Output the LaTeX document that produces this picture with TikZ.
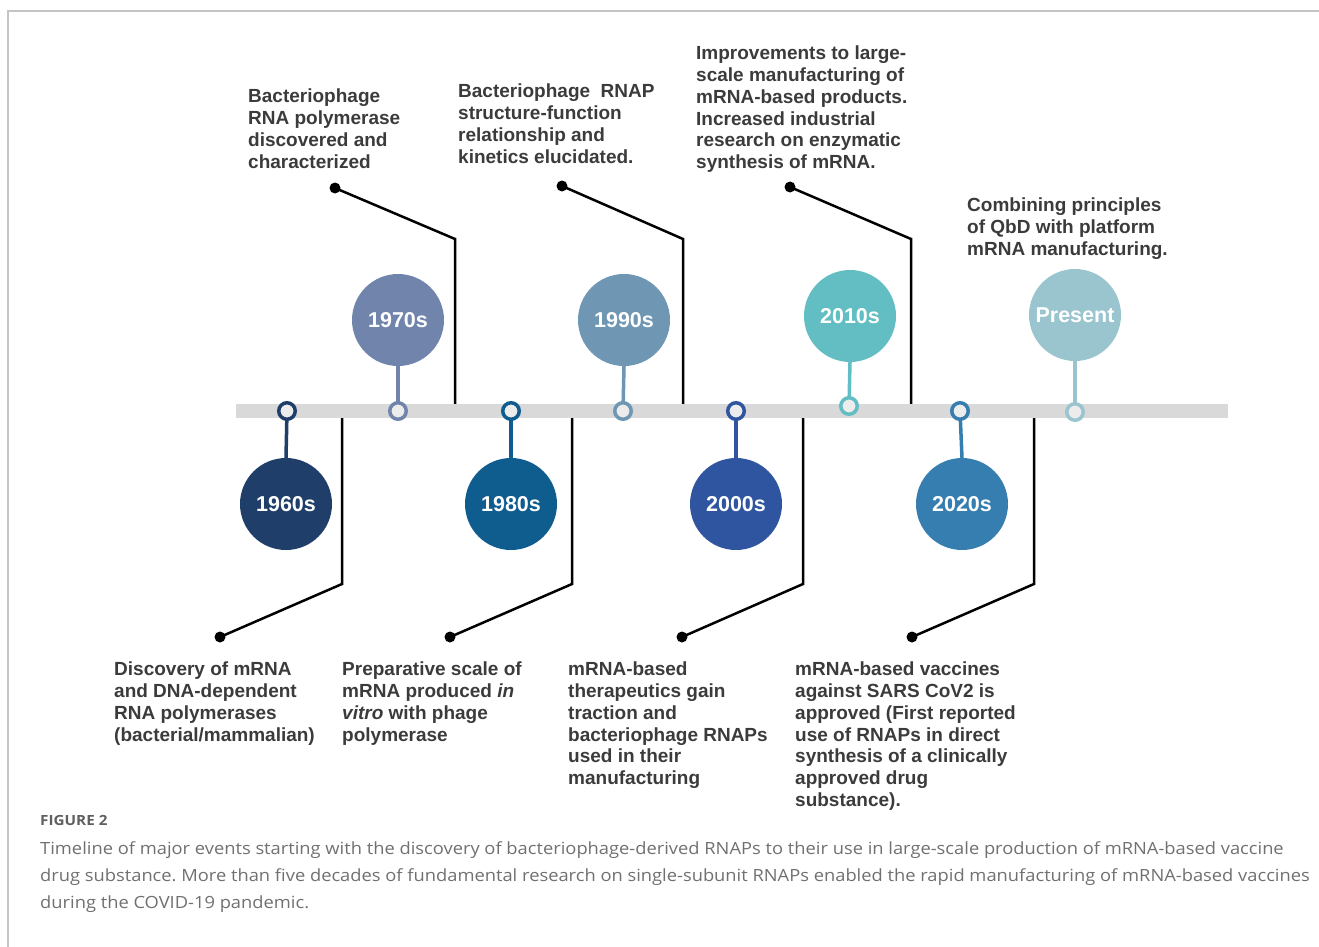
\documentclass[tikz,border=0pt]{standalone}
\usepackage{fontspec}
\setmainfont{Liberation Sans}
\newfontfamily\capfont[FakeStretch=1.09]{Open Sans}
\definecolor{c60}{HTML}{1F3F6A}
\definecolor{c70}{HTML}{7185AC}
\definecolor{c80}{HTML}{0F5C8E}
\definecolor{c90}{HTML}{6F96B3}
\definecolor{c00}{HTML}{2F55A0}
\definecolor{c10}{HTML}{62BEC3}
\definecolor{c20}{HTML}{357EAF}
\definecolor{cpr}{HTML}{9AC5CF}
\definecolor{barc}{HTML}{D9D9D9}
\definecolor{txt}{HTML}{3B3B3B}
\definecolor{framec}{HTML}{C4C4C4}
\definecolor{capc}{HTML}{707070}
\frenchspacing
\begin{document}
\begin{tikzpicture}[x=1pt,y=-1pt,
  yearc/.style={circle, minimum size=92pt, inner sep=0pt, fill=#1, text=white, font=\fontsize{21.5}{21.5}\selectfont\bfseries},
  ringc/.style={circle, minimum size=16.5pt, inner sep=0pt, draw=#1, line width=3.5pt, fill=barc!50!white},
  stemline/.style={line width=3.5pt, draw=#1},
  conn/.style={line width=2.5pt, draw=black, line join=miter},
  dotc/.style={circle, fill=black, minimum size=11pt, inner sep=0pt},
  lbl/.style={anchor=north west, inner sep=0pt, align=left, text=txt, font=\fontsize{19}{21.7}\selectfont\bfseries},
  capt/.style={anchor=base west, inner sep=0pt, text=capc, font=\capfont\fontsize{16.8}{20}\selectfont}
]
\useasboundingbox (0,0) rectangle (1319,947);
% frame
\draw[framec, line width=1.5pt] (8,947) -- (8,11) -- (1319,11);

% bar
\node[fill=barc, minimum width=992pt, minimum height=14pt, inner sep=0pt] (bar) at (732,411) {};

% year circles
\node[yearc=c60] (c60) at (286,504) {1960s};
\node[yearc=c70] (c70) at (398,320) {1970s};
\node[yearc=c80] (c80) at (511,504) {1980s};
\node[yearc=c90] (c90) at (624,320) {1990s};
\node[yearc=c00] (c00) at (736,504) {2000s};
\node[yearc=c10] (c10) at (850,316) {2010s};
\node[yearc=c20] (c20) at (962,504) {2020s};
\node[yearc=cpr] (cpr) at (1075,315) {Present};

% ring positions on bar
\coordinate (p60) at (287,411);
\coordinate (p70) at (398,411);
\coordinate (p80) at (511,411);
\coordinate (p90) at (623,411);
\coordinate (p00) at (736,411);
\coordinate (p10) at (849,406);
\coordinate (p20) at (960,411);
\coordinate (ppr) at (1075,412);

\draw[stemline=c60] (p60) -- (c60.north);
\draw[stemline=c70] (p70) -- (c70.south);
\draw[stemline=c80] (p80) -- (c80.north);
\draw[stemline=c90] (p90) -- (c90.south);
\draw[stemline=c00] (p00) -- (c00.north);
\draw[stemline=c10] (p10) -- (c10.south);
\draw[stemline=c20] (p20) -- (c20.north);
\draw[stemline=cpr] (ppr) -- (cpr.south);

\node[ringc=c60] (r60) at (p60) {};
\node[ringc=c70] (r70) at (p70) {};
\node[ringc=c80] (r80) at (p80) {};
\node[ringc=c90] (r90) at (p90) {};
\node[ringc=c00] (r00) at (p00) {};
\node[ringc=c10] (r10) at (p10) {};
\node[ringc=c20] (r20) at (p20) {};
\node[ringc=cpr] (rpr) at (ppr) {};

% top connectors
\node[dotc] (d1) at (335,188) {};
\coordinate (k1) at (455,239);
\draw[conn] (d1.center) -- (k1) -- (k1 |- bar.north);
\node[dotc] (d2) at (562,186) {};
\coordinate (k2) at (683,239);
\draw[conn] (d2.center) -- (k2) -- (k2 |- bar.north);
\node[dotc] (d3) at (790,187) {};
\coordinate (k3) at (911,239);
\draw[conn] (d3.center) -- (k3) -- (k3 |- bar.north);

% bottom connectors
\node[dotc] (e1) at (220,637) {};
\coordinate (m1) at (342,584);
\draw[conn] (m1 |- bar.south) -- (m1) -- (e1.center);
\node[dotc] (e2) at (450,637) {};
\coordinate (m2) at (572,584);
\draw[conn] (m2 |- bar.south) -- (m2) -- (e2.center);
\node[dotc] (e3) at (682,637) {};
\coordinate (m3) at (803,584);
\draw[conn] (m3 |- bar.south) -- (m3) -- (e3.center);
\node[dotc] (e4) at (912,637) {};
\coordinate (m4) at (1034,584);
\draw[conn] (m4 |- bar.south) -- (m4) -- (e4.center);

% labels top
\node[lbl] (t1) at (248,89) {Bacteriophage\\RNA polymerase\\discovered and\\characterized};
\node[lbl] (t2) at (458,84) {Bacteriophage\ \ RNAP\\structure-function\\relationship and\\kinetics elucidated.};
\node[lbl] (t3) at (696,46) {Improvements to large-\\scale manufacturing of\\mRNA-based products.\\Increased industrial\\research on enzymatic\\synthesis of mRNA.};
\node[lbl] (t4) at (967,198) {Combining principles\\of QbD with platform\\mRNA manufacturing.};

% labels bottom
\node[lbl] (b1) at (114,662) {Discovery of mRNA\\and DNA-dependent\\RNA polymerases\\(bacterial/mammalian)};
\node[lbl] (b2) at (342,662) {Preparative scale of\\mRNA produced \textit{in}\\\textit{vitro} with phage\\polymerase};
\node[lbl] (b3) at (568,662) {mRNA-based\\therapeutics gain\\traction and\\bacteriophage RNAPs\\used in their\\manufacturing};
\node[lbl] (b4) at (795,662) {mRNA-based vaccines\\against SARS CoV2 is\\approved (First reported\\use of RNAPs in direct\\synthesis of a clinically\\approved drug\\substance).};

% caption
\node[capt, font=\capfont\fontsize{14}{16}\selectfont\bfseries, text=capc!85!black] (fig) at (40,825) {FIGURE 2};
\node[capt] (cap1) at (40,854) {Timeline of major events starting with the discovery of bacteriophage-derived RNAPs to their use in large-scale production of mRNA-based vaccine};
\node[capt] (cap2) at (40,881) {drug substance. More than five decades of fundamental research on single-subunit RNAPs enabled the rapid manufacturing of mRNA-based vaccines};
\node[capt] (cap3) at (40,908) {during the COVID-19 pandemic.};
\end{tikzpicture}
\end{document}
